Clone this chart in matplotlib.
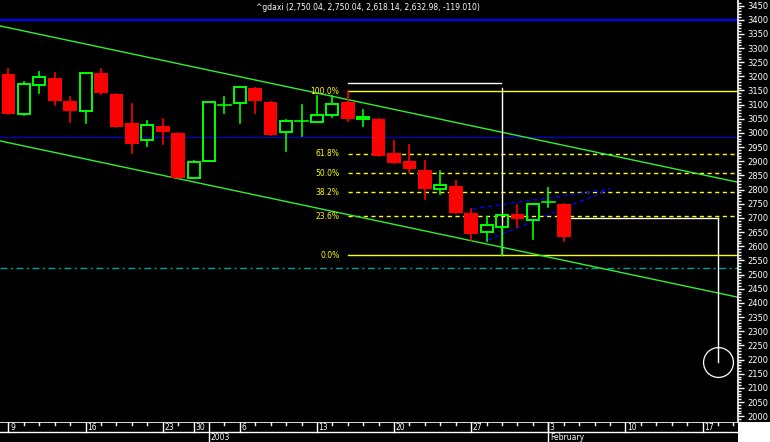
import matplotlib
matplotlib.use("Agg")
import matplotlib.pyplot as plt
import matplotlib.patches as mpatches
from matplotlib.ticker import MultipleLocator, FixedLocator

# ^GDAXI daily candles, 9 Dec 2002 .. 4 Feb 2003 (trading-day index on x)
opens  = [3208, 3066, 3168, 3194, 3112, 3077, 3211, 3138, 3035, 2974, 3025, 3000, 2840,
          2900, 3098, 3105, 3159, 3109, 3002, 3042, 3040, 3065, 3109, 3049, 3049, 2929,
          2901, 2869, 2803, 2813, 2718, 2651, 2669, 2714, 2692, 2753, 2750.04]
highs  = [3226, 3180, 3214, 3211, 3127, 3211, 3226, 3138, 3102, 3042, 3049, 3000, 2902,
          3108, 3127, 3161, 3159, 3109, 3046, 3099, 3131, 3132, 3148, 3081, 3049, 2972,
          2958, 2901, 2866, 2831, 2732, 2704, 2709, 2746, 2748, 2806, 2750.04]
lows   = [3066, 3064, 3140, 3099, 3040, 3036, 3139, 3022, 2930, 2955, 2962, 2840, 2840,
          2900, 3072, 3036, 3072, 2994, 2937, 2990, 3040, 3058, 3043, 3026, 2920, 2895,
          2862, 2768, 2784, 2719, 2622, 2619, 2569, 2669, 2627, 2740, 2618.14]
closes = [3068, 3173, 3197, 3114, 3079, 3211, 3142, 3022, 2962, 3027, 3005, 2841, 2897,
          3108, 3098, 3161, 3114, 2994, 3041, 3042, 3064, 3102, 3049, 3056, 2920, 2895,
          2874, 2803, 2815, 2719, 2644, 2674, 2709, 2695, 2748, 2755, 2632.98]

day_ticks   = [0, 5, 10, 12, 15, 20, 25, 30, 35, 40, 45]
day_labels  = ["9", "16", "23", "30", "6", "13", "20", "27", "3", "10", "17"]
month_ticks  = [13, 35]
month_labels = ["2003", "February"]

fib_ratios = [1.0, 0.618, 0.5, 0.382, 0.236, 0.0]
fib_labels = ["100.0%", "61.8%", "50.0%", "38.2%", "23.6%", "0.0%"]
fib_high, fib_low, fib_start = 3148, 2569, 22

upper_channel = ([-0.55, 47.3], [3378, 2826])
lower_channel = ([-0.55, 47.3], [2972, 2420])
blue_upper = ([30.1, 39.0], [2732, 2802])
blue_lower = ([31.1, 39.0], [2622, 2802])
h_blue, h_darkblue, h_teal = 3400, 2985, 2523
white_top = ([22, 31.95], 3176)
white_vert = (32.02, 3159, 2569)
target_line = ([36, 46], 2699)
target_circle = (46, 2192)

title = "^gdaxi (2,750.04, 2,750.04, 2,618.14, 2,632.98, -119.010)"

W, H = 770, 442
XMIN, XMAX = -0.55, 47.3
YMIN, YMAX = 1979.5, 3469.5
GREEN, RED, YEL = "#00ff00", "#ff0000", "#ffff00"
FONT = ["DejaVu Sans"]

fig = plt.figure(figsize=(W / 100, H / 100), dpi=100, facecolor="black")
ax = fig.add_axes([0, 20 / H, 738 / W, 422 / H], facecolor="black")
ax.set_xlim(XMIN, XMAX)
ax.set_ylim(YMIN, YMAX)

# reference lines
ax.axhline(h_blue, color="#0000ff", lw=1.6, zorder=1)
ax.axhline(h_darkblue, color="#0000c8", lw=0.9, zorder=1)
ax.axhline(h_teal, color="#00a0a0", lw=1.0, dashes=(5, 2.5, 1.5, 2.5), zorder=1)
ax.plot(*upper_channel, color="#30f030", lw=1.0, zorder=2)
ax.plot(*lower_channel, color="#30f030", lw=1.0, zorder=2)
ax.plot(*blue_upper, color="#0000ff", lw=1.0, dashes=(3, 2.5), zorder=2)
ax.plot(*blue_lower, color="#0000ff", lw=1.0, dashes=(3, 2.5), zorder=2)

# fibonacci retracement
for r, lab in zip(fib_ratios, fib_labels):
    lvl = fib_low + r * (fib_high - fib_low)
    if r in (0.0, 1.0):
        ax.plot([fib_start, XMAX], [lvl, lvl], color=YEL, lw=1.0, zorder=1)
    else:
        ax.plot([fib_start, XMAX], [lvl, lvl], color=YEL, lw=1.0, dashes=(3, 2.5), zorder=1)
    ax.text(21.45, lvl, lab, color=YEL, fontsize=5.5, ha="right", va="center", family=FONT)

ax.plot(white_top[0], [white_top[1]] * 2, color="white", lw=1.0, zorder=3)
ax.plot([white_vert[0]] * 2, white_vert[1:], color="white", lw=1.0, zorder=3)
ax.plot(target_line[0], [target_line[1]] * 2, color="white", lw=1.0, zorder=3)
ax.plot([target_line[0][1]] * 2, [target_line[1], target_circle[1]], color="white", lw=1.0, zorder=3)
ax.plot(*target_circle, marker="o", ms=21.5, mfc="none", mec="white", mew=0.9, zorder=3)

# candles
w = 0.88
for i, (o, h, l, c) in enumerate(zip(opens, highs, lows, closes)):
    up = c >= o
    col = GREEN if up else RED
    lo_b, hi_b = min(o, c), max(o, c)
    if hi_b - lo_b < 4:
        ax.plot([i - w / 2, i + w / 2], [c, c], color=col, lw=1.2, zorder=4)
        ax.plot([i, i], [l, h], color=col, lw=1.2, zorder=4)
        continue
    if up:
        ax.plot([i, i], [l, lo_b], color=col, lw=1.2, zorder=4)
        ax.plot([i, i], [hi_b, h], color=col, lw=1.2, zorder=4)
        ax.add_patch(mpatches.Rectangle((i - w / 2 + 0.05, lo_b), w - 0.1, hi_b - lo_b,
                                        facecolor="none", edgecolor=col, lw=1.4, zorder=5))
    else:
        ax.plot([i, i], [l, h], color=col, lw=1.2, zorder=4)
        ax.add_patch(mpatches.Rectangle((i - w / 2, lo_b), w, hi_b - lo_b,
                                        facecolor=col, edgecolor="none", zorder=5))

# right price axis
for s in ("left", "top", "bottom"):
    ax.spines[s].set_visible(False)
ax.spines["right"].set_color("white")
ax.spines["right"].set_linewidth(1.2)
ax.yaxis.tick_right()
ax.yaxis.set_major_locator(MultipleLocator(50))
ax.yaxis.set_minor_locator(MultipleLocator(10))
ax.tick_params(axis="y", which="major", colors="white", length=4, width=1, labelsize=6, pad=3)
ax.tick_params(axis="y", which="minor", colors="white", length=2.5, width=1)
ax.set_xticks([])
for t in ax.get_yticklabels():
    t.set_family(FONT)

# date strip
ax2 = fig.add_axes([0, 0, 738 / W, 20 / H], facecolor="black")
ax2.set_xlim(XMIN, XMAX)
ax2.set_ylim(0, 20)
ax2.axis("off")
ax2.axhline(19.6, color="white", lw=1.2)
ax2.axhline(10, color="white", lw=1.0)
for i in range(48):
    if i not in day_ticks and i not in month_ticks:
        ax2.plot([i, i], [17, 20], color="white", lw=1.0)
for i, lab in zip(day_ticks, day_labels):
    ax2.plot([i, i], [10, 20], color="white", lw=1.0)
    ax2.text(i + 0.1, 14.8, lab, color="white", fontsize=5.5, va="center", ha="left", family=FONT)
for i, lab in zip(month_ticks, month_labels):
    ax2.plot([i, i], [0, 20], color="white", lw=1.0)
    ax2.text(i + 0.1, 4.8, lab, color="white", fontsize=5.5, va="center", ha="left", family=FONT)

fig.patches.append(mpatches.Rectangle((738 / W, 0), 32 / W, 20 / H, transform=fig.transFigure,
                                      facecolor="white", edgecolor="none"))
fig.text(368 / W, 1 - 8 / H, title, color="white", fontsize=5.5, ha="center", va="center", family=FONT)

fig.savefig("out.png", dpi=100, facecolor="black")
